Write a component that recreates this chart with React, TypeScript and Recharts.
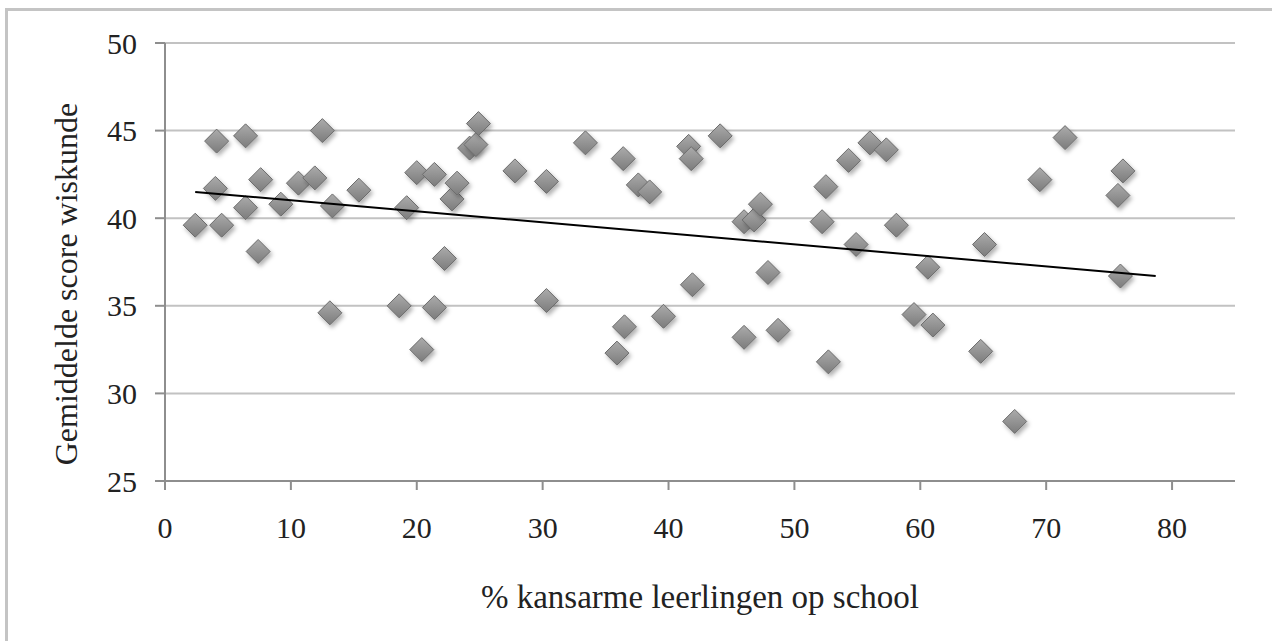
import { ScatterChart, Scatter, XAxis, YAxis, CartesianGrid, Label } from "recharts";

// % kansarme leerlingen per school (x) and average maths score (y)
const pctKansarm = [
  2.4, 4.0, 4.1, 4.5, 6.4, 6.4, 7.4, 7.6, 9.2, 10.6, 11.9, 12.5, 13.1, 13.3, 15.4, 18.6, 19.2,
  20.0, 20.4, 21.4, 21.4, 22.2, 22.8, 23.2, 24.2, 24.7, 24.9, 27.8, 30.3, 30.3, 33.4, 35.9, 36.4,
  36.5, 37.6, 38.5, 39.6, 41.6, 41.8, 41.9, 44.1, 46.0, 46.0, 46.8, 47.3, 47.9, 48.7, 52.2, 52.5,
  52.7, 54.3, 54.9, 56.0, 57.3, 58.1, 59.5, 60.6, 61.0, 64.8, 65.1, 67.5, 69.5, 71.5, 75.7, 75.9,
  76.1,
];
const scoreWiskunde = [
  39.6, 41.7, 44.4, 39.6, 44.7, 40.6, 38.1, 42.2, 40.8, 42.0, 42.3, 45.0, 34.6, 40.7, 41.6, 35.0, 40.6,
  42.6, 32.5, 42.5, 34.9, 37.7, 41.1, 42.0, 44.0, 44.2, 45.4, 42.7, 42.1, 35.3, 44.3, 32.3, 43.4,
  33.8, 41.9, 41.5, 34.4, 44.1, 43.4, 36.2, 44.7, 39.8, 33.2, 39.9, 40.8, 36.9, 33.6, 39.8, 41.8,
  31.8, 43.3, 38.5, 44.3, 43.9, 39.6, 34.5, 37.2, 33.9, 32.4, 38.5, 28.4, 42.2, 44.6, 41.3, 36.7,
  42.7,
];

// linear trend line end points
const trendX = [2.4, 78.7];
const trendY = [41.5, 36.7];

const xTicks = [0, 10, 20, 30, 40, 50, 60, 70, 80];
const yTicks = [25, 30, 35, 40, 45, 50];

const points = pctKansarm.map((x, i) => ({ x, y: scoreWiskunde[i] }));
const trend = trendX.map((x, i) => ({ x, y: trendY[i] }));

const FONT = '"Liberation Serif", "Times New Roman", serif';

const Diamond = (props: any) => {
  const { cx, cy } = props;
  const r = 12;
  return (
    <path
      d={`M${cx},${cy - r} L${cx + r},${cy} L${cx},${cy + r} L${cx - r},${cy} Z`}
      fill="url(#diamondFill)"
      stroke="#6c6c6c"
      strokeWidth={1}
      filter="url(#diamondShadow)"
    />
  );
};

export default function App() {
  return (
    <div style={{ position: "absolute", left: 0, top: 0, width: 1272, height: 641, overflow: "hidden", background: "#fff" }}>
      <svg width={0} height={0} style={{ position: "absolute" }}>
        <defs>
          <linearGradient id="diamondFill" x1="0" y1="0" x2="0" y2="1">
            <stop offset="0%" stopColor="#ababab" />
            <stop offset="100%" stopColor="#7c7c7c" />
          </linearGradient>
          <filter id="diamondShadow" x="-50%" y="-50%" width="200%" height="200%">
            <feDropShadow dx="2" dy="3" stdDeviation="2" floodColor="#000" floodOpacity="0.3" />
          </filter>
        </defs>
      </svg>
      <div
        style={{
          position: "absolute",
          left: 5,
          top: 8,
          width: 1300,
          height: 700,
          borderTop: "3px solid #c4c4c4",
          borderLeft: "3px solid #c4c4c4",
        }}
      />
      <div style={{ position: "absolute", left: 0, top: 0 }}>
        <ScatterChart width={1272} height={641} margin={{ top: 43, right: 37, bottom: 0, left: 0 }}>
          <CartesianGrid vertical={false} stroke="#c2c2c2" strokeWidth={2} />
          <XAxis
            type="number"
            dataKey="x"
            domain={[0, 85]}
            ticks={xTicks}
            height={160}
            tickSize={9}
            tickMargin={27}
            axisLine={{ stroke: "#8e8e8e", strokeWidth: 2 }}
            tickLine={{ stroke: "#8e8e8e", strokeWidth: 2 }}
            tick={{ fontFamily: FONT, fontSize: 30, fill: "#222" }}
          >
            <Label
              value="% kansarme leerlingen op school"
              position="insideBottom"
              offset={33}
              style={{ fontFamily: FONT, fontSize: 33, fill: "#222" }}
            />
          </XAxis>
          <YAxis
            type="number"
            dataKey="y"
            domain={[25, 50]}
            ticks={yTicks}
            width={165}
            tickSize={10}
            tickMargin={18}
            axisLine={{ stroke: "#8e8e8e", strokeWidth: 2 }}
            tickLine={{ stroke: "#8e8e8e", strokeWidth: 2 }}
            tick={{ fontFamily: FONT, fontSize: 30, fill: "#222" }}
          >
            <Label
              content={() => (
                <text
                  x={66}
                  y={284}
                  transform="rotate(-90 66 284)"
                  textAnchor="middle"
                  dominantBaseline="central"
                  style={{ fontFamily: FONT, fontSize: 32, fill: "#222" }}
                >
                  Gemiddelde score wiskunde
                </text>
              )}
            />
          </YAxis>
          <Scatter data={points} shape={Diamond} isAnimationActive={false} />
          <Scatter
            data={trend}
            line={{ stroke: "#000", strokeWidth: 2 }}
            shape={() => <g />}
            isAnimationActive={false}
          />
        </ScatterChart>
      </div>
    </div>
  );
}
